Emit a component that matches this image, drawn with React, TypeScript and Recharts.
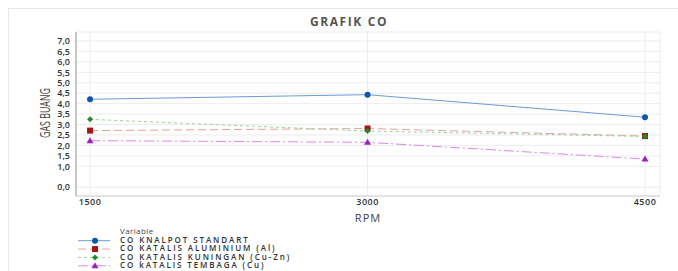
import { LineChart, Line, XAxis, YAxis, CartesianGrid, Legend } from "recharts";

const rpm = [1500, 3000, 4500];
const standart = [4.21, 4.43, 3.35];
const aluminium = [2.71, 2.81, 2.45];
const kuningan = [3.25, 2.69, 2.43];
const tembaga = [2.23, 2.15, 1.35];
const yTicks = [0, 1, 1.5, 2, 2.5, 3, 3.5, 4, 4.5, 5, 5.5, 6, 6.5, 7];
const xTicks = [1500, 3000, 4500];

const data = rpm.map((r, i) => ({
  rpm: r,
  standart: standart[i],
  aluminium: aluminium[i],
  kuningan: kuningan[i],
  tembaga: tembaga[i],
}));

type Kind = "circle" | "square" | "diamond" | "triangle";

const series: { key: string; name: string; stroke: string; dash?: string; fill: string; kind: Kind }[] = [
  { key: "standart", name: "CO KNALPOT STANDART", stroke: "#6c9bd9", fill: "#0c56b0", kind: "circle" },
  { key: "aluminium", name: "CO KATALIS ALUMINIUM (Al)", stroke: "#e6a2a2", dash: "8 4", fill: "#a31616", kind: "square" },
  { key: "kuningan", name: "CO KATALIS KUNINGAN (Cu-Zn)", stroke: "#9cd39c", dash: "3 3", fill: "#1d8b2b", kind: "diamond" },
  { key: "tembaga", name: "CO kATALIS TEMBAGA (Cu)", stroke: "#d88ae6", dash: "10 3 2 3", fill: "#9a22c2", kind: "triangle" },
];

const FONT = "'Open Sans', sans-serif";

function marker(kind: Kind, cx: number, cy: number, fill: string, key?: any) {
  if (kind === "circle") return <circle key={key} cx={cx} cy={cy} r={3} fill={fill} />;
  if (kind === "square") return <rect key={key} x={cx - 3} y={cy - 3} width={6} height={6} fill={fill} />;
  if (kind === "diamond")
    return <polygon key={key} points={`${cx},${cy - 3} ${cx + 3},${cy} ${cx},${cy + 3} ${cx - 3},${cy}`} fill={fill} />;
  return <polygon key={key} points={`${cx},${cy - 3.5} ${cx + 3.5},${cy + 2.5} ${cx - 3.5},${cy + 2.5}`} fill={fill} />;
}

const fmt = (v: number) => v.toFixed(1).replace(".", ",");

function LegendBox() {
  return (
    <div style={{ height: 41, width: 320, position: "relative" }}>
      <svg width={320} height={41} style={{ overflow: "visible" }}>
        <text x={120} y={1.5} fontSize={8} fill="#444" fontFamily={FONT} dominantBaseline="middle" letterSpacing={0.4}>
          Variable
        </text>
        {series.map((s, i) => {
          const y = 10.7 + i * 8.35;
          return (
            <g key={s.key}>
              <line x1={78} x2={110} y1={y} y2={y} stroke={s.stroke} strokeWidth={1} strokeDasharray={s.dash} />
              {marker(s.kind, 95, y, s.fill)}
              <text x={120} y={y} fontSize={8} fill="#333" fontFamily={FONT} fontWeight={600} dominantBaseline="middle" letterSpacing={1.9}>
                {s.name}
              </text>
            </g>
          );
        })}
      </svg>
    </div>
  );
}

function YLabel() {
  const cx = 45.5;
  const cy = 113;
  return (
    <text
      x={cx}
      y={cy}
      transform={`rotate(-90 ${cx} ${cy})`}
      textAnchor="middle"
      dominantBaseline="middle"
      fontSize={15}
      fill="#444"
      fontFamily={FONT}
      textLength={50}
      lengthAdjust="spacingAndGlyphs"
    >
      GAS BUANG
    </text>
  );
}

export default function App() {
  return (
    <div style={{ position: "absolute", left: 0, top: 0, width: 678, height: 271, background: "#fff", overflow: "hidden" }}>
      <div
        style={{
          position: "absolute",
          left: 8,
          top: 8,
          width: 700,
          height: 300,
          borderLeft: "1px solid #e6e6e6",
          borderTop: "1px solid #e6e6e6",
        }}
      />
      <div
        style={{
          position: "absolute",
          left: 249,
          width: 200,
          top: 13,
          textAlign: "center",
          fontFamily: FONT,
          fontWeight: 700,
          fontSize: 12,
          letterSpacing: 1.6,
          color: "#555",
        }}
      >
        GRAFIK CO
      </div>
      <LineChart
        width={678}
        height={271}
        data={data}
        margin={{ top: 32, right: 18, bottom: 0, left: 0 }}
        style={{ position: "absolute", left: 0, top: 0 }}
      >
        <CartesianGrid stroke="#ececec" />
        <XAxis
          dataKey="rpm"
          type="number"
          domain={[1424, 4581]}
          ticks={xTicks}
          interval={0}
          height={34}
          tickLine={false}
          tickSize={3}
          tickMargin={0}
          axisLine={{ stroke: "#cfcfcf" }}
          tick={{ fontSize: 9, fill: "#333", fontFamily: FONT, fontWeight: 600, letterSpacing: 0.5 }}
          label={{
            value: "RPM",
            position: "insideBottom",
            offset: 8,
            style: { fontSize: 11, fill: "#444", fontFamily: FONT, letterSpacing: 1 },
          }}
        />
        <XAxis xAxisId="top" orientation="top" type="number" domain={[1424, 4581]} height={0} tick={false} tickLine={false} axisLine={{ stroke: "#c8c8c8" }} />
        <YAxis
          type="number"
          domain={[-0.42, 7.43]}
          ticks={yTicks}
          interval={0}
          width={76}
          tickLine={false}
          tickSize={0}
          tickMargin={6}
          tickFormatter={fmt}
          axisLine={{ stroke: "#9a9a9a" }}
          tick={{ fontSize: 9, fill: "#333", fontFamily: FONT, fontWeight: 600 }}
          label={<YLabel />}
        />
        <YAxis yAxisId="right" orientation="right" type="number" domain={[-0.42, 7.43]} width={0} tick={false} tickLine={false} axisLine={{ stroke: "#b8b8b8" }} />
        {series.map((s) => (
          <Line
            key={s.key}
            dataKey={s.key}
            name={s.name}
            stroke={s.stroke}
            strokeWidth={1}
            strokeDasharray={s.dash}
            isAnimationActive={false}
            dot={(p: any) => marker(s.kind, p.cx, p.cy, s.fill, `${s.key}-${p.index}`)}
            activeDot={false}
          />
        ))}
        <Legend verticalAlign="bottom" align="left" content={() => <LegendBox />} />
      </LineChart>
    </div>
  );
}
